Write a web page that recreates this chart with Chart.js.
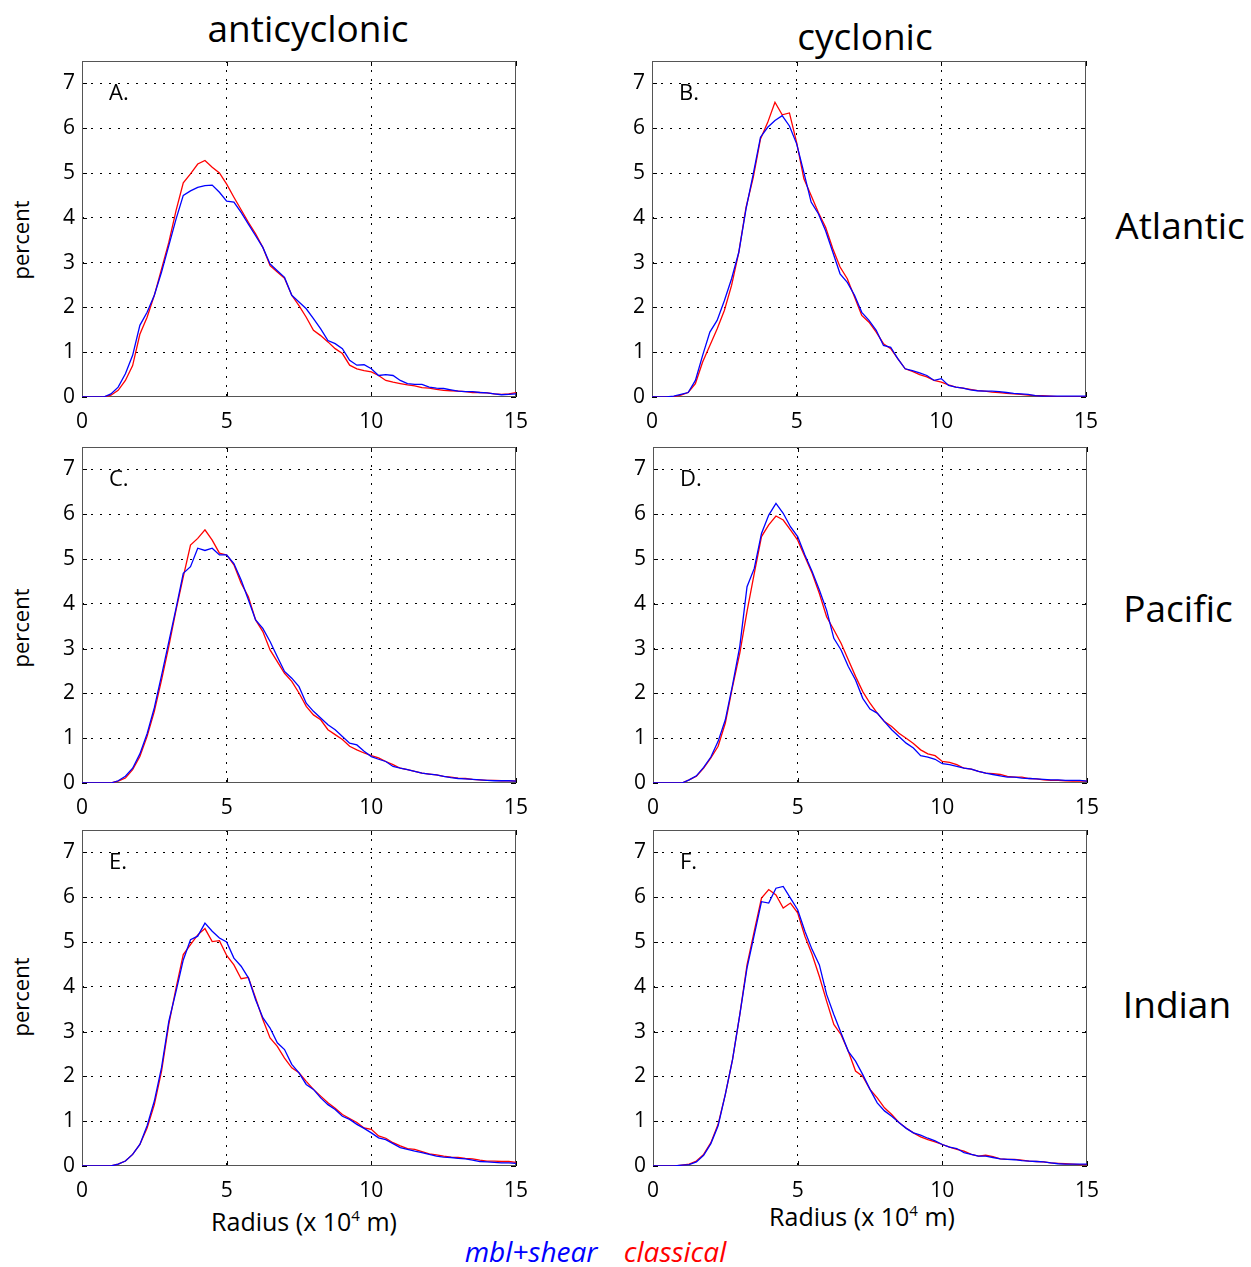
<!DOCTYPE html>
<html>
<head>
<meta charset="utf-8">
<script src="https://cdn.jsdelivr.net/npm/chart.js@4.4.0/dist/chart.umd.min.js"></script>
<style>
  body { margin: 0; background: #fff; width: 1251px; height: 1267px; position: relative; overflow: hidden; font-family: 'Open Sans', sans-serif; color: #000; }
  .panel { position: absolute; }
  .lbl { position: absolute; transform: translate(-50%, -50%); white-space: nowrap; }
  .big { font-size: 37px; }
  .ylab { font-size: 22px; transform: translate(-50%, -50%) rotate(-90deg); }
  .xlab { font-size: 25px; }
  .xlab sup { font-size: 15px; vertical-align: 10px; line-height: 0; }
  .letter { position: absolute; font-size: 22px; }
  .leg { font-size: 28px; font-style: italic; }
</style>
</head>
<body>
<div class="lbl big" style="left:308px; top:27px;">anticyclonic</div>
<div class="lbl big" style="left:865px; top:35px;">cyclonic</div>
<div class="lbl big" style="left:1180px; top:224px;">Atlantic</div>
<div class="lbl big" style="left:1178px; top:607px;">Pacific</div>
<div class="lbl big" style="left:1177px; top:1003px;">Indian</div>
<div class="lbl ylab" style="left:20px; top:240px;">percent</div>
<div class="lbl ylab" style="left:20px; top:628px;">percent</div>
<div class="lbl ylab" style="left:20px; top:997px;">percent</div>
<div class="lbl xlab" style="left:304px; top:1221px;">Radius (x 10<sup>4</sup> m)</div>
<div class="lbl xlab" style="left:862px; top:1216px;">Radius (x 10<sup>4</sup> m)</div>
<div class="lbl leg" style="left:531px; top:1251px; color:#0000ff;">mbl+shear</div>
<div class="lbl leg" style="left:675px; top:1251px; color:#ff0000;">classical</div>

<script>
// radius grid (x 10^4 m), 0.25 spacing
const radius = [0, 0.25, 0.5, 0.75, 1, 1.25, 1.5, 1.75, 2, 2.25,
  2.5, 2.75, 3, 3.25, 3.5, 3.75, 4, 4.25, 4.5, 4.75,
  5, 5.25, 5.5, 5.75, 6, 6.25, 6.5, 6.75, 7, 7.25,
  7.5, 7.75, 8, 8.25, 8.5, 8.75, 9, 9.25, 9.5, 9.75,
  10, 10.25, 10.5, 10.75, 11, 11.25, 11.5, 11.75, 12, 12.25,
  12.5, 12.75, 13, 13.25, 13.5, 13.75, 14, 14.25, 14.5, 14.75, 15];

const xTicks = [0, 5, 10, 15];
const yTicks = [0, 1, 2, 3, 4, 5, 6, 7];

// A. Atlantic anticyclonic
const atlAntiBlue = [0,0,0,0,0.07,0.22,0.52,0.93,1.6,1.89,
  2.27,2.79,3.38,3.97,4.5,4.6,4.68,4.72,4.73,4.57,
  4.37,4.35,4.12,3.86,3.6,3.34,2.97,2.82,2.67,2.27,
  2.12,1.97,1.75,1.52,1.26,1.19,1.08,0.82,0.71,0.72,
  0.63,0.48,0.5,0.48,0.37,0.3,0.28,0.28,0.22,0.2,
  0.19,0.16,0.13,0.12,0.12,0.1,0.09,0.07,0.05,0.06,0.07];
const atlAntiRed = [0,0,0,0,0.04,0.15,0.37,0.7,1.4,1.78,
  2.27,2.86,3.45,4.16,4.78,4.98,5.2,5.28,5.13,5.0,
  4.75,4.46,4.18,3.9,3.64,3.34,2.93,2.79,2.65,2.27,
  2.04,1.78,1.49,1.37,1.23,1.08,0.97,0.71,0.63,0.59,
  0.56,0.48,0.37,0.33,0.3,0.27,0.25,0.21,0.2,0.17,
  0.15,0.14,0.13,0.12,0.1,0.1,0.09,0.07,0.06,0.07,0.1];

// B. Atlantic cyclonic
const atlCycBlue = [0,0,0,0.02,0.06,0.1,0.37,0.93,1.45,1.71,
  2.15,2.64,3.23,4.2,4.98,5.8,6.02,6.17,6.28,6.05,
  5.65,5.01,4.35,4.09,3.71,3.23,2.75,2.56,2.27,1.89,
  1.71,1.49,1.15,1.11,0.85,0.63,0.59,0.54,0.48,0.37,
  0.41,0.26,0.22,0.2,0.16,0.14,0.13,0.13,0.12,0.1,
  0.08,0.07,0.06,0.03,0.02,0.02,0.02,0.02,0.02,0.02,0.02];
const atlCycRed = [0,0,0,0.01,0.04,0.1,0.3,0.78,1.15,1.52,
  1.93,2.49,3.23,4.23,4.9,5.76,6.13,6.58,6.3,6.34,
  5.68,4.87,4.5,4.12,3.79,3.31,2.9,2.64,2.23,1.82,
  1.67,1.45,1.19,1.08,0.85,0.63,0.57,0.5,0.45,0.37,
  0.33,0.27,0.22,0.2,0.17,0.14,0.13,0.11,0.1,0.08,
  0.07,0.06,0.04,0.03,0.03,0.02,0.01,0.01,0.01,0.01,0.01];

// C. Pacific anticyclonic
const pacAntiBlue = [0,0,0,0,0,0.05,0.15,0.33,0.65,1.1,
  1.68,2.4,3.15,3.9,4.68,4.83,5.24,5.19,5.24,5.09,
  5.09,4.9,4.53,4.09,3.64,3.45,3.16,2.82,2.49,2.34,
  2.15,1.78,1.6,1.45,1.3,1.19,1.04,0.89,0.85,0.71,
  0.59,0.53,0.48,0.37,0.33,0.3,0.26,0.22,0.2,0.18,
  0.15,0.12,0.1,0.09,0.08,0.07,0.06,0.05,0.05,0.05,0.04];
const pacAntiRed = [0,0,0,0,0,0.04,0.11,0.3,0.59,1.04,
  1.6,2.3,3.05,3.86,4.6,5.31,5.46,5.65,5.42,5.13,
  5.09,4.87,4.46,4.16,3.64,3.38,2.97,2.71,2.45,2.27,
  2.01,1.71,1.52,1.41,1.19,1.08,0.97,0.82,0.74,0.67,
  0.61,0.56,0.48,0.41,0.33,0.3,0.26,0.22,0.2,0.18,
  0.15,0.13,0.11,0.1,0.08,0.07,0.06,0.06,0.05,0.05,0.04];

// D. Pacific cyclonic
const pacCycBlue = [0,0,0,0,0,0.07,0.16,0.35,0.58,0.93,
  1.41,2.19,3.05,4.38,4.79,5.57,5.98,6.24,6.02,5.72,
  5.5,5.09,4.72,4.31,3.86,3.23,2.97,2.6,2.3,1.89,
  1.65,1.56,1.37,1.19,1.04,0.89,0.78,0.61,0.58,0.53,
  0.43,0.41,0.37,0.33,0.31,0.26,0.22,0.19,0.16,0.13,
  0.13,0.11,0.1,0.09,0.08,0.07,0.07,0.06,0.06,0.06,0.04];
const pacCycRed = [0,0,0,0,0,0.07,0.15,0.33,0.56,0.82,
  1.34,2.15,2.9,3.83,4.68,5.5,5.76,5.96,5.87,5.65,
  5.42,5.05,4.68,4.23,3.71,3.42,3.12,2.75,2.38,2.04,
  1.78,1.56,1.37,1.26,1.11,1.0,0.88,0.74,0.65,0.61,
  0.48,0.46,0.41,0.33,0.31,0.26,0.22,0.21,0.19,0.15,
  0.13,0.13,0.1,0.09,0.07,0.06,0.06,0.05,0.04,0.04,0.04];

// E. Indian anticyclonic
const indAntiBlue = [0,0,0,0,0,0.04,0.11,0.26,0.48,0.9,
  1.45,2.2,3.23,3.9,4.6,5.05,5.13,5.42,5.24,5.09,
  5.0,4.64,4.46,4.2,3.71,3.31,3.08,2.75,2.6,2.27,
  2.08,1.82,1.71,1.52,1.37,1.26,1.11,1.04,0.93,0.84,
  0.74,0.63,0.59,0.5,0.41,0.37,0.33,0.3,0.26,0.22,
  0.2,0.19,0.17,0.16,0.13,0.1,0.09,0.08,0.07,0.07,0.06];
const indAntiRed = [0,0,0,0,0,0.04,0.11,0.26,0.48,0.85,
  1.37,2.12,3.16,3.97,4.72,4.94,5.16,5.3,5.01,5.03,
  4.7,4.49,4.18,4.21,3.75,3.27,2.86,2.67,2.41,2.19,
  2.08,1.89,1.71,1.56,1.41,1.29,1.15,1.06,0.97,0.85,
  0.82,0.67,0.62,0.52,0.45,0.39,0.37,0.32,0.27,0.25,
  0.22,0.2,0.19,0.17,0.16,0.13,0.11,0.11,0.1,0.1,0.08];

// F. Indian cyclonic
const indCycBlue = [0,0,0,0,0.02,0.03,0.09,0.24,0.5,0.9,
  1.6,2.38,3.38,4.42,5.16,5.9,5.87,6.2,6.24,5.98,
  5.72,5.24,4.83,4.49,3.83,3.38,2.97,2.56,2.34,2.04,
  1.71,1.41,1.23,1.11,0.97,0.84,0.74,0.69,0.62,0.56,
  0.48,0.42,0.39,0.3,0.26,0.22,0.22,0.19,0.16,0.15,
  0.14,0.12,0.11,0.1,0.09,0.07,0.05,0.04,0.04,0.04,0.04];
const indCycRed = [0,0,0,0,0.02,0.04,0.11,0.26,0.52,0.93,
  1.6,2.38,3.38,4.49,5.24,5.98,6.17,6.05,5.76,5.87,
  5.65,5.13,4.72,4.23,3.68,3.16,2.93,2.56,2.12,2.0,
  1.71,1.52,1.3,1.15,0.97,0.85,0.74,0.65,0.59,0.54,
  0.48,0.42,0.37,0.33,0.26,0.22,0.24,0.21,0.16,0.15,
  0.15,0.13,0.11,0.1,0.09,0.07,0.06,0.05,0.04,0.03,0.03];

// panel layout: plot-area top-left corner in page pixels
const PLOT_W = 434, PLOT_H = 336;
const AXIS_W = 60, AXIS_H = 45, PAD_T = 10, PAD_R = 25;

const panels = [
  { letter: 'A.', left: 82,  top: 61,  blue: atlAntiBlue, red: atlAntiRed },
  { letter: 'B.', left: 652, top: 61,  blue: atlCycBlue,  red: atlCycRed },
  { letter: 'C.', left: 82,  top: 447, blue: pacAntiBlue, red: pacAntiRed },
  { letter: 'D.', left: 653, top: 447, blue: pacCycBlue,  red: pacCycRed },
  { letter: 'E.', left: 82,  top: 830, blue: indAntiBlue, red: indAntiRed },
  { letter: 'F.', left: 653, top: 830, blue: indCycBlue,  red: indCycRed }
];

// box round the plot plus small inward ticks, like matlab
const framePlugin = {
  id: 'frame',
  beforeDatasetsDraw(chart) {
    const { ctx, chartArea: a, scales: { x, y } } = chart;
    ctx.save();
    ctx.lineWidth = 1;
    ctx.strokeStyle = '#000';
    ctx.beginPath();
    xTicks.forEach(v => {
      const px = Math.round(x.getPixelForValue(v)) + 0.5;
      ctx.moveTo(px, a.bottom); ctx.lineTo(px, a.bottom - 5);
      ctx.moveTo(px, a.top); ctx.lineTo(px, a.top + 5);
    });
    yTicks.forEach(v => {
      const py = Math.round(y.getPixelForValue(v)) + 0.5;
      ctx.moveTo(a.left, py); ctx.lineTo(a.left + 5, py);
      ctx.moveTo(a.right, py); ctx.lineTo(a.right - 5, py);
    });
    ctx.stroke();
    ctx.strokeStyle = '#555';
    ctx.strokeRect(a.left + 0.5, a.top + 0.5, a.width - 1, a.height - 1);
    ctx.restore();
  }
};

const tickFont = { family: 'Open Sans', size: 21 };
const edgeColor = (ctx, lo, hi) =>
  (ctx.tick && (ctx.tick.value === lo || ctx.tick.value === hi)) ? 'rgba(0,0,0,0)' : '#000';

panels.forEach((p, i) => {
  const wrap = document.createElement('div');
  wrap.className = 'panel';
  const w = AXIS_W + PLOT_W + PAD_R, h = PAD_T + PLOT_H + AXIS_H;
  wrap.style.left = (p.left - AXIS_W) + 'px';
  wrap.style.top = (p.top - PAD_T) + 'px';
  wrap.style.width = w + 'px';
  wrap.style.height = h + 'px';
  const cv = document.createElement('canvas');
  cv.width = w; cv.height = h;
  wrap.appendChild(cv);
  document.body.appendChild(wrap);

  const lt = document.createElement('div');
  lt.className = 'letter';
  lt.textContent = p.letter;
  lt.style.left = (p.left + 27) + 'px';
  lt.style.top = (p.top + 15) + 'px';
  document.body.appendChild(lt);

  new Chart(cv.getContext('2d'), {
    type: 'line',
    data: {
      datasets: [
        { label: 'mbl+shear', data: radius.map((r, k) => ({ x: r, y: p.blue[k] })), borderColor: '#0000ff' },
        { label: 'classical', data: radius.map((r, k) => ({ x: r, y: p.red[k] })), borderColor: '#ff0000' }
      ]
    },
    options: {
      responsive: false,
      animation: false,
      layout: { padding: { top: PAD_T, right: PAD_R, left: 0, bottom: 0 } },
      plugins: { legend: { display: false }, tooltip: { enabled: false } },
      elements: { point: { radius: 0 }, line: { borderWidth: 1.3, tension: 0 } },
      scales: {
        x: {
          type: 'linear', min: 0, max: 15,
          afterBuildTicks: s => { s.ticks = xTicks.map(v => ({ value: v })); },
          afterFit: s => { s.height = AXIS_H; s.paddingLeft = 0; s.paddingRight = 0; },
          ticks: { font: tickFont, color: '#000', padding: 12, maxRotation: 0 },
          grid: { drawTicks: false, lineWidth: 1, color: c => edgeColor(c, 0, 15) },
          border: { display: false, dash: [2, 7] }
        },
        y: {
          type: 'linear', min: 0, max: 7.5,
          afterBuildTicks: s => { s.ticks = yTicks.map(v => ({ value: v })); },
          afterFit: s => { s.width = AXIS_W; s.paddingTop = 0; s.paddingBottom = 0; },
          ticks: { font: tickFont, color: '#000', padding: 7 },
          grid: { drawTicks: false, lineWidth: 1, color: c => edgeColor(c, 0, 7.5) },
          border: { display: false, dash: [2, 7] }
        }
      }
    },
    plugins: [framePlugin]
  });
});
</script>
</body>
</html>
